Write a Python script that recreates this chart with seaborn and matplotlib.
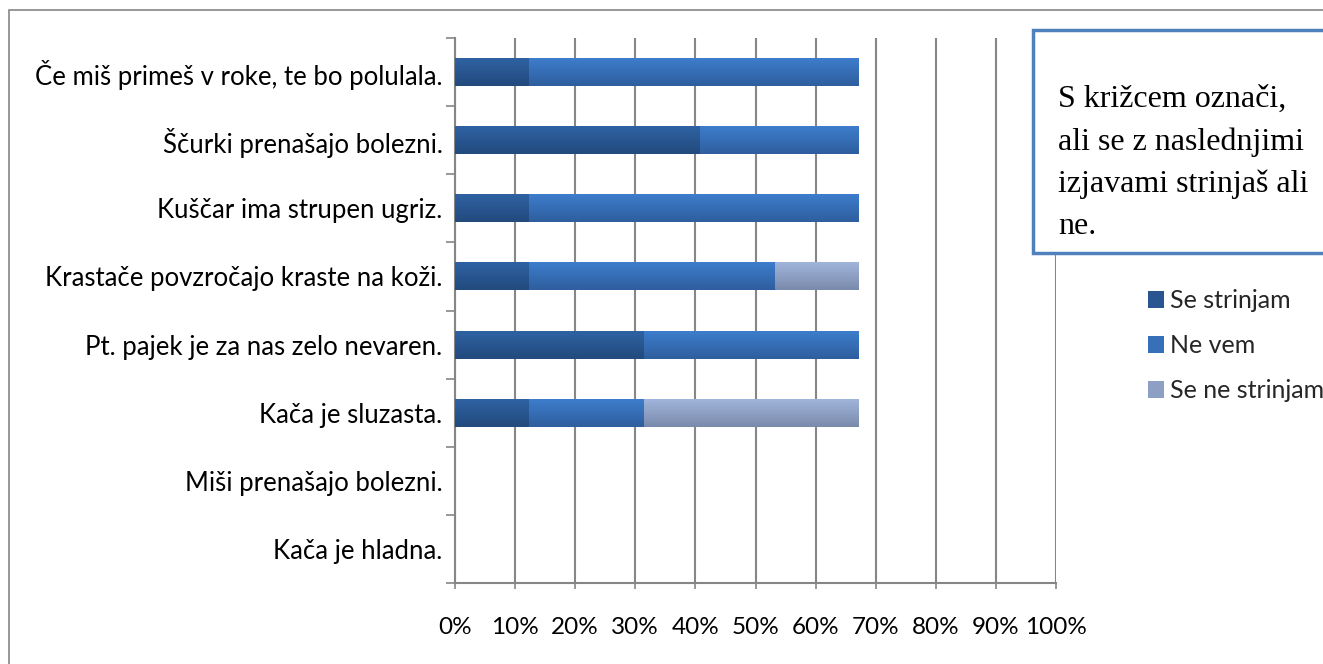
import numpy as np
import matplotlib
matplotlib.use("Agg")
import matplotlib.pyplot as plt
import seaborn as sns
from matplotlib.patches import Rectangle, Patch
from matplotlib.colors import LinearSegmentedColormap

categories = [
    "Če miš primeš v roke, te bo polulala.",
    "Ščurki prenašajo bolezni.",
    "Kuščar ima strupen ugriz.",
    "Krastače povzročajo kraste na koži.",
    "Pt. pajek je za nas zelo nevaren.",
    "Kača je sluzasta.",
    "Miši prenašajo bolezni.",
    "Kača je hladna.",
]
se_strinjam = [12.3, 40.7, 12.3, 12.3, 31.3, 12.3, 0, 0]
ne_vem = [54.9, 26.5, 54.9, 40.8, 35.9, 19.0, 0, 0]
se_ne_strinjam = [0, 0, 0, 14.0, 0, 35.9, 0, 0]
series_names = ["Se strinjam", "Ne vem", "Se ne strinjam"]
x_ticks = list(range(0, 101, 10))
box_text = "S križcem označi,\nali se z naslednjimi\nizjavami strinjaš ali\nne."

sns.set_theme(style="white")
plt.rcParams["font.family"] = ["Lato", "DejaVu Sans"]

W, H = 1323, 664
fig = plt.figure(figsize=(W / 100, H / 100), dpi=100)
ax = fig.add_axes([455 / W, 1 - 583 / H, (1056 - 455) / W, (583 - 38) / H])

c1 = np.array(se_strinjam, dtype=float)
c2 = c1 + np.array(ne_vem)
c3 = c2 + np.array(se_ne_strinjam)

grads = [("#A0B5DB", "#7A8AAC"), ("#3D7DCC", "#2E5E9E"), ("#2F62A3", "#224A7D")]
mids = ["#8DA0C4", "#3570B8", "#295690"]
grad_arr = np.linspace(0, 1, 64).reshape(-1, 1)
for i, (vals, (top, bot), mid) in enumerate(zip([c3, c2, c1], grads, mids)):
    n0 = len(ax.patches)
    sns.barplot(x=vals, y=categories, orient="h", color=mid, width=0.41,
                saturation=1, ax=ax)
    cmap = LinearSegmentedColormap.from_list(f"g{i}", [top, bot])
    for p in ax.patches[n0:]:
        p.set_zorder(2 + i)
        p.set_linewidth(0)
        x0, y0 = p.get_x(), p.get_y()
        w, h = p.get_width(), p.get_height()
        if w <= 0:
            continue
        im = ax.imshow(grad_arr, cmap=cmap, aspect="auto", origin="upper",
                       extent=(x0, x0 + w, y0 + h, y0), zorder=2.5 + i,
                       interpolation="bilinear")
        im.set_clip_path(p)

ax.set_xlim(0, 100)
ax.set_ylim(len(categories) - 0.5, -0.5)
ax.set_xlabel("")
ax.set_ylabel("")

gray = "#868686"
ax.set_xticks(x_ticks)
ax.set_xticklabels([f"{t}%" for t in x_ticks], fontsize=17.5)
ax.xaxis.grid(True, color=gray, linewidth=1.5)
ax.yaxis.grid(False)
ax.set_axisbelow(True)
ax.tick_params(axis="x", which="major", direction="out", length=4.5, width=1.2,
               color=gray, pad=20, bottom=True, labelcolor="black")

ax.set_yticks(np.arange(-0.5, len(categories), 1.0))
ax.set_yticklabels([])
ax.set_yticks(np.arange(len(categories)), minor=True)
ax.set_yticklabels(categories, minor=True, fontsize=18.5)
ax.tick_params(axis="y", which="major", direction="out", length=6.5, width=1.2,
               color=gray, left=True)
ax.tick_params(axis="y", which="minor", length=0, pad=9, labelcolor="black")

for s in ["top", "right"]:
    ax.spines[s].set_visible(False)
for s in ["left", "bottom"]:
    ax.spines[s].set_color(gray)
    ax.spines[s].set_linewidth(1.5)

# outer chart border (left and top visible)
fig.add_artist(Rectangle((9 / W, -0.05), 1.2, 1.05 - 10 / H,
                         transform=fig.transFigure, fill=False,
                         edgecolor=gray, linewidth=1.2, zorder=0.1))

# text box
fig.add_artist(Rectangle((1033 / W, 1 - 253 / H), 0.3, (253 - 30) / H,
                         transform=fig.transFigure, facecolor="white",
                         edgecolor="#4F81BD", linewidth=2.5, zorder=5))
fig.text(1058 / W, 1 - 85 / H, box_text, transform=fig.transFigure,
         family=["Liberation Serif", "DejaVu Serif"], fontsize=23,
         va="top", ha="left", linespacing=1.58, zorder=6, color="black")

handles = [Patch(facecolor=c, edgecolor="none") for c in mids[::-1]]
fig.legend(handles, series_names, loc="upper left",
           bbox_to_anchor=(1148 / W, 1 - 289 / H), frameon=False,
           fontsize=18, handlelength=0.65, handleheight=0.65,
           handletextpad=0.25, labelspacing=0.88, borderpad=0,
           borderaxespad=0)

fig.savefig("out.png", dpi=100)
